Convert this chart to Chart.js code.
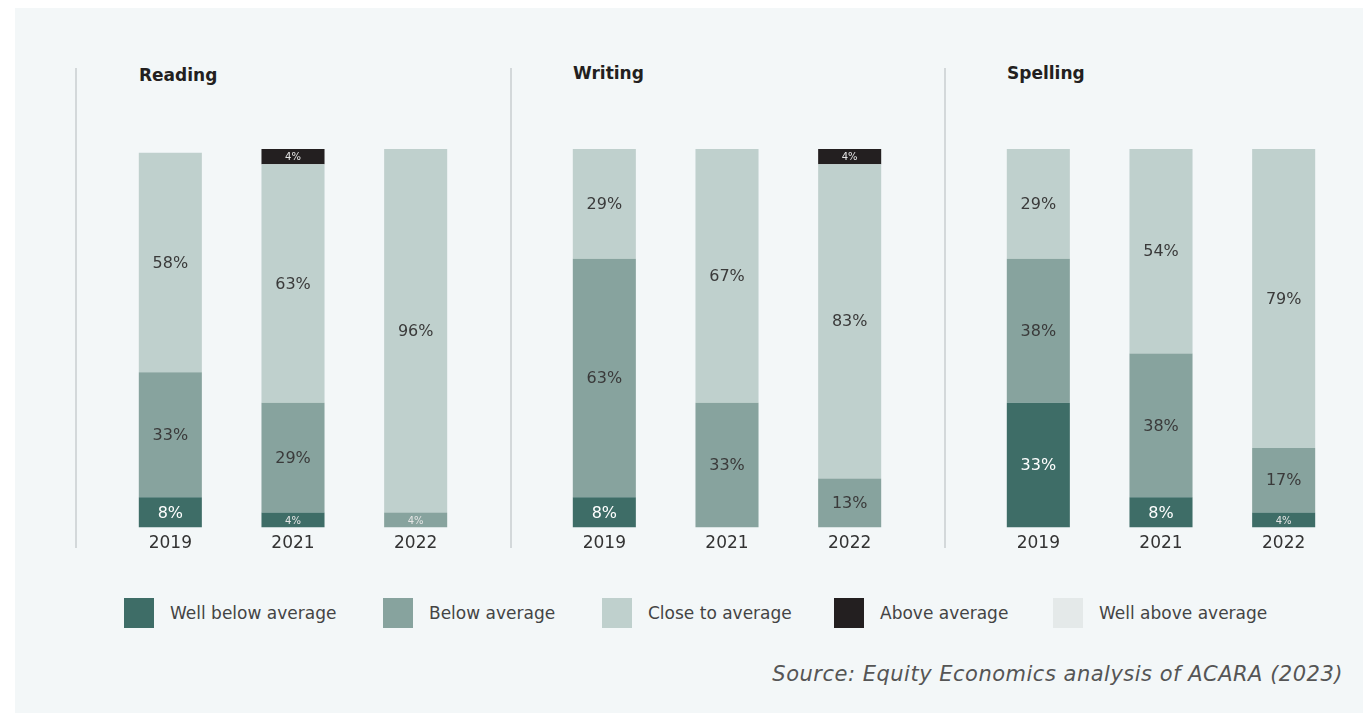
<!DOCTYPE html>
<html>
<head>
<meta charset="utf-8">
<script src="https://cdn.jsdelivr.net/npm/chart.js@4.4.0/dist/chart.umd.min.js"></script>
<style>
  body { margin: 0; background: #fff; font-family: "DejaVu Sans", sans-serif; }
  #panel { position: absolute; left: 15px; top: 8px; width: 1348px; height: 705px; background: #f3f7f8; }
  .sep { position: absolute; top: 68px; width: 2px; height: 480px; background: #d3d8da; }
  .title { position: absolute; font-weight: 700; font-size: 17px; color: #231f20; }
  .box { position: absolute; top: 140px; width: 368px; height: 420px; }
  .leg { position: absolute; top: 598px; width: 30px; height: 30px; }
  .legtxt { position: absolute; top: 603px; font-size: 17px; color: #444; }
  #source { position: absolute; right: 20px; top: 662px; font-size: 21px; font-style: italic; color: #555; letter-spacing: 0.5px; }
</style>
</head>
<body>
<div id="panel"></div>
<div class="sep" style="left:75px"></div>
<div class="sep" style="left:510px"></div>
<div class="sep" style="left:944px"></div>
<div class="title" style="left:139px;top:65px">Reading</div>
<div class="title" style="left:573px;top:63px">Writing</div>
<div class="title" style="left:1007px;top:63px">Spelling</div>
<div class="box" style="left:109px"><canvas id="c0"></canvas></div>
<div class="box" style="left:543px"><canvas id="c1"></canvas></div>
<div class="box" style="left:977px"><canvas id="c2"></canvas></div>
<div id="legend"></div>
<div id="source">Source: Equity Economics analysis of ACARA (2023)</div>
<script>
var years = ['2019', '2021', '2022'];
var levels = ['Well below average', 'Below average', 'Close to average', 'Above average', 'Well above average'];
var levelColors = ['#3e6d67', '#87a39e', '#bfd0cd', '#231f20', '#e4e9e9'];

var readingWellBelow = [8, 4, 0];
var readingBelow = [33, 29, 4];
var readingClose = [58, 63, 96];
var readingAbove = [0, 4, 0];
var readingWellAbove = [0, 0, 0];

var writingWellBelow = [8, 0, 0];
var writingBelow = [63, 33, 13];
var writingClose = [29, 67, 83];
var writingAbove = [0, 0, 4];
var writingWellAbove = [0, 0, 0];

var spellingWellBelow = [33, 8, 4];
var spellingBelow = [38, 38, 17];
var spellingClose = [29, 54, 79];
var spellingAbove = [0, 0, 0];
var spellingWellAbove = [0, 0, 0];

// draw the % text inside each segment
var segmentLabels = {
    id: 'segmentLabels',
    afterDatasetsDraw: function (chart) {
        var ctx = chart.ctx;
        ctx.save();
        ctx.textAlign = 'center';
        ctx.textBaseline = 'middle';
        chart.data.datasets.forEach(function (ds, i) {
            var meta = chart.getDatasetMeta(i);
            meta.data.forEach(function (bar, j) {
                var v = ds.data[j];
                if (!v) return;
                var y = (bar.y + bar.base) / 2;
                if (v < 6) {
                    ctx.font = '10px "DejaVu Sans"';
                    ctx.fillStyle = '#e6e6e6';
                } else {
                    ctx.font = '16px "DejaVu Sans"';
                    ctx.fillStyle = i === 0 ? '#ffffff' : '#3a3a3a';
                }
                ctx.fillText(v + '%', bar.x, y + 1);
            });
        });
        ctx.restore();
    }
};

function makeChart(id, series) {
    var ctx = document.getElementById(id).getContext('2d');
    return new Chart(ctx, {
        type: 'bar',
        data: {
            labels: years,
            datasets: series.map(function (s, i) {
                return {
                    label: levels[i],
                    data: s,
                    backgroundColor: levelColors[i],
                    borderWidth: 0,
                    barPercentage: 0.514,
                    categoryPercentage: 1
                };
            })
        },
        options: {
            responsive: true,
            maintainAspectRatio: false,
            animation: false,
            layout: { padding: { top: 9, bottom: 0 } },
            plugins: { legend: { display: false }, tooltip: { enabled: false } },
            scales: {
                x: {
                    stacked: true,
                    grid: { display: false, drawTicks: false },
                    border: { display: false },
                    ticks: { color: '#333', font: { size: 17, family: 'DejaVu Sans' }, padding: 6 }
                },
                y: { stacked: true, display: false, min: 0, max: 100 }
            }
        },
        plugins: [segmentLabels]
    });
}

makeChart('c0', [readingWellBelow, readingBelow, readingClose, readingAbove, readingWellAbove]);
makeChart('c1', [writingWellBelow, writingBelow, writingClose, writingAbove, writingWellAbove]);
makeChart('c2', [spellingWellBelow, spellingBelow, spellingClose, spellingAbove, spellingWellAbove]);

// legend
var legX = [124, 383, 602, 834, 1053];
var legend = document.getElementById('legend');
levels.forEach(function (name, i) {
    var sq = document.createElement('div');
    sq.className = 'leg';
    sq.style.left = legX[i] + 'px';
    sq.style.background = levelColors[i];
    legend.appendChild(sq);
    var t = document.createElement('div');
    t.className = 'legtxt';
    t.style.left = (legX[i] + 46) + 'px';
    t.textContent = name;
    legend.appendChild(t);
});
</script>
</body>
</html>
